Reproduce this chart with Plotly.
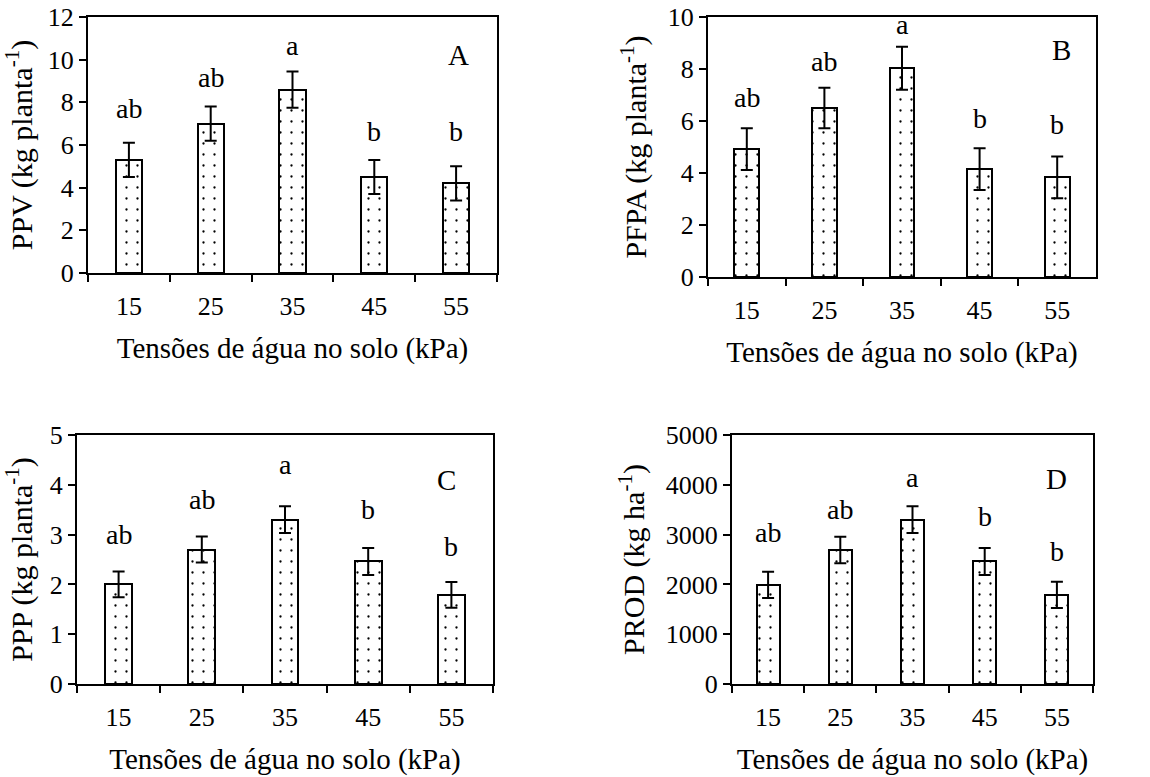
import plotly.graph_objects as go

# ---------------- data ----------------
tensions = ["15", "25", "35", "45", "55"]
letters = ["ab", "ab", "a", "b", "b"]

ppv = [5.3, 7.0, 8.6, 4.5, 4.2]
ppv_err = [0.8, 0.8, 0.85, 0.8, 0.8]
ppv_letter_y = [7.2, 8.65, 10.15, 6.15, 6.15]

pfpa = [4.92, 6.5, 8.03, 4.15, 3.83]
pfpa_err = [0.8, 0.78, 0.83, 0.8, 0.8]
pfpa_letter_y = [6.5, 7.9, 9.3, 5.7, 5.45]

ppp = [2.0, 2.7, 3.3, 2.46, 1.79]
ppp_err = [0.26, 0.26, 0.27, 0.27, 0.26]
ppp_letter_y = [2.8, 3.5, 4.2, 3.3, 2.56]

prod = [1990, 2690, 3300, 2460, 1790]
prod_err = [265, 265, 270, 270, 265]
prod_letter_y = [2825, 3290, 3930, 3160, 2456]

y_titles = ["PPV (kg planta<sup>-1</sup>)", "PFPA (kg planta<sup>-1</sup>)",
            "PPP (kg planta<sup>-1</sup>)", "PROD (kg ha<sup>-1</sup>)"]
panel_tags = ["A", "B", "C", "D"]
y_ranges = [[0, 12], [0, 10], [0, 5], [0, 5000]]
y_dticks = [2, 2, 1, 1000]
x_title = "Tensões de água no solo (kPa)"

# ---------------- layout ----------------
W, H = 1150, 777
FONT = "Liberation Serif, Times New Roman, serif"
# panel boxes in pixels: (left, right, top, bottom)
boxes = [(88, 497, 17, 273), (708, 1096, 17, 277), (77, 493, 435, 684), (732, 1093, 435, 684)]
tag_pos = [(0.905, 0.85), (0.912, 0.873), (0.889, 0.82), (0.9, 0.823)]

series = [ppv, pfpa, ppp, prod]
errors = [ppv_err, pfpa_err, ppp_err, prod_err]
letter_ys = [ppv_letter_y, pfpa_letter_y, ppp_letter_y, prod_letter_y]

fig = go.Figure()
annotations = []
layout_axes = {}

for i in range(4):
    n = "" if i == 0 else str(i + 1)
    xa, ya = "x" + n, "y" + n
    fig.add_trace(go.Bar(
        x=tensions, y=series[i], xaxis=xa, yaxis=ya, width=0.32,
        marker=dict(color="white", line=dict(color="black", width=2),
                    pattern=dict(shape=".", fgcolor="black", bgcolor="white",
                                 size=11, solidity=0.035)),
        error_y=dict(type="data", array=errors[i], color="black", thickness=2, width=6),
        showlegend=False,
    ))
    l, r, t, b = boxes[i]
    layout_axes["xaxis" + n] = dict(
        domain=[l / W, r / W], anchor=ya, type="category",
        categoryorder="array", categoryarray=tensions,
        range=[-0.5, len(tensions) - 0.5], autorange=False,
        tickson="boundaries", ticks="outside", ticklen=7, tickwidth=2, tickcolor="black",
        ticklabelstandoff=9,
        showline=True, linecolor="black", linewidth=2, mirror=True,
        showgrid=False, zeroline=False, automargin=False,
        tickfont=dict(family=FONT, size=26, color="black"),
        title=dict(text=x_title, font=dict(family=FONT, size=29, color="black"), standoff=17),
    )
    layout_axes["yaxis" + n] = dict(
        domain=[1 - b / H, 1 - t / H], anchor=xa, range=y_ranges[i], autorange=False,
        dtick=y_dticks[i],
        ticks="outside", ticklen=7, tickwidth=2, tickcolor="black",
        showline=True, linecolor="black", linewidth=2, mirror=True,
        showgrid=False, zeroline=False, automargin=False,
        tickfont=dict(family=FONT, size=26, color="black"),
        title=dict(text=y_titles[i], font=dict(family=FONT, size=30, color="black"), standoff=12),
    )
    for k, (lab, ly) in enumerate(zip(letters, letter_ys[i])):
        annotations.append(dict(
            x=k, y=ly, xref=xa, yref=ya, text=lab, showarrow=False,
            yanchor="bottom", yshift=-7,
            font=dict(family=FONT, size=28, color="black"),
        ))
    annotations.append(dict(
        x=tag_pos[i][0], y=tag_pos[i][1], xref=xa + " domain", yref=ya + " domain",
        text=panel_tags[i], showarrow=False, xanchor="center", yanchor="middle",
        font=dict(family=FONT, size=29, color="black"),
    ))

fig.update_layout(
    width=W, height=H, margin=dict(l=0, r=0, t=0, b=0),
    paper_bgcolor="white", plot_bgcolor="white", template="none",
    bargap=0.0, annotations=annotations, **layout_axes,
)

fig.write_html("out.html", config={"displayModeBar": False},
               post_script="document.body.style.margin='0px';")
